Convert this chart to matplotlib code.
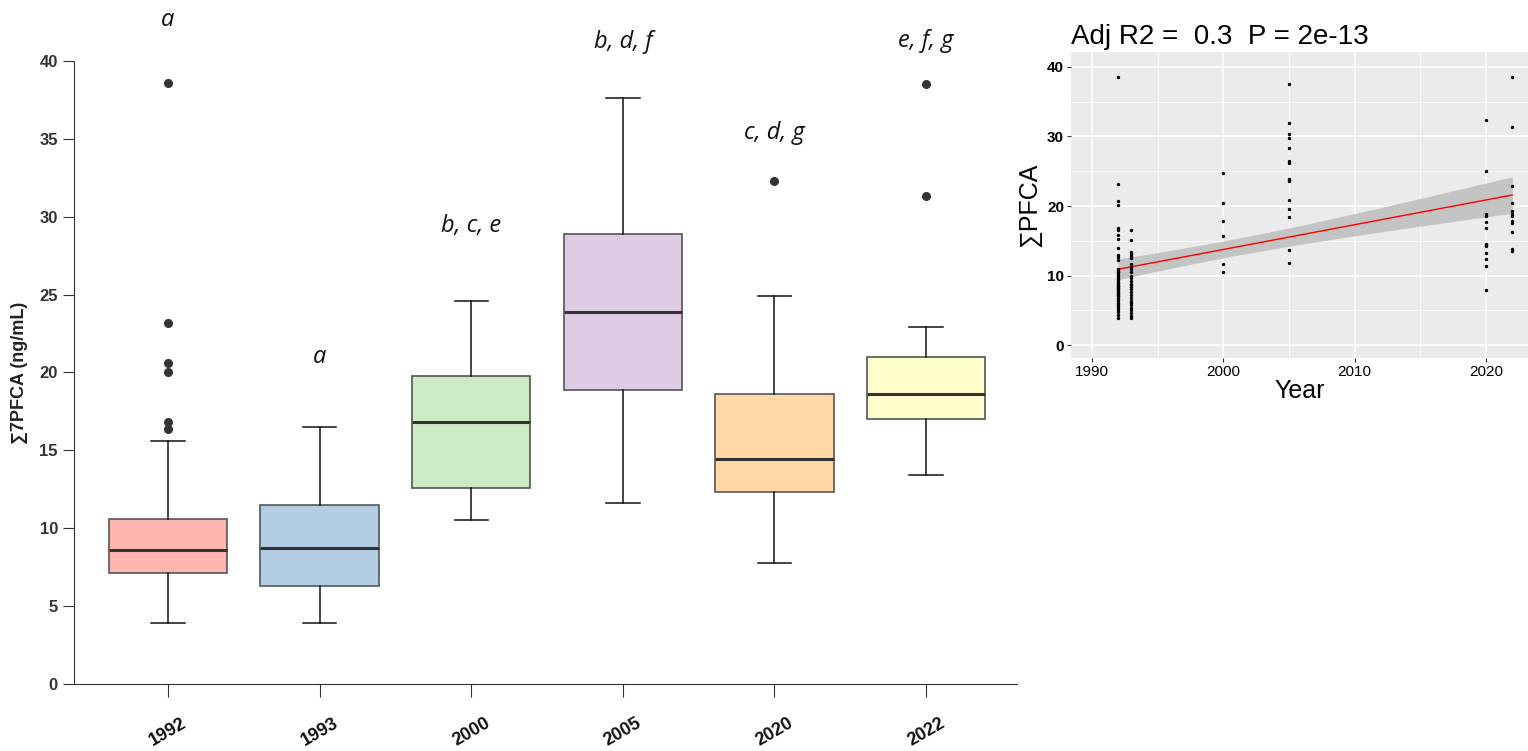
import numpy as np
import matplotlib
matplotlib.use('Agg')
import matplotlib.pyplot as plt

plt.rcParams['font.family'] = ['Liberation Sans', 'DejaVu Sans']

# resumen de cajas por año
anios = ['1992', '1993', '2000', '2005', '2020', '2022']
bigote_bajo = [3.9, 3.9, 10.5, 11.6, 7.8, 13.4]
q1 = [7.15, 6.3, 12.6, 18.9, 12.3, 17.0]
mediana = [8.6, 8.75, 16.8, 23.9, 14.45, 18.6]
q3 = [10.6, 11.5, 19.8, 28.9, 18.6, 21.0]
bigote_alto = [15.6, 16.5, 24.6, 37.6, 24.9, 22.9]
atipicos = [[38.6, 23.2, 20.6, 20.0, 16.8, 16.4], [], [], [], [32.3], [38.5, 31.3]]
letras = ['a', 'a', 'b, c, e', 'b, d, f', 'c, d, g', 'e, f, g']
altura_letras = [42.6, 21.0, 29.4, 41.2, 35.4, 41.3]
colores = ['#FBB4AE', '#B3CDE3', '#CCEBC5', '#DECBE4', '#FED9A6', '#FFFFCC']

# puntos del panel de regresion (estimados del grafico)
pfca_1992 = [3.9, 4.3, 4.7, 5.0, 5.3, 5.6, 5.9, 6.1, 6.3, 6.6, 6.8, 7.0,
             7.1, 7.2, 7.4, 7.5, 7.7, 7.8, 8.0, 8.1, 8.2, 8.4, 8.5, 8.6,
             8.7, 8.9, 9.1, 9.3, 9.5, 9.7, 9.9, 10.1, 10.3, 10.5, 10.7, 10.9,
             12.2, 12.6, 12.9, 13.9, 15.3, 15.8, 16.5, 16.9, 20.2, 20.7, 23.1, 38.6]
pfca_1993 = [3.9, 4.2, 4.6, 5.0, 5.4, 5.8, 6.1, 6.4, 6.8, 7.2, 7.6, 8.0, 8.3, 8.7,
             8.8, 9.2, 9.6, 10.0, 10.5, 10.9, 11.2, 11.6, 12.5, 12.8, 13.1, 13.4, 15.1, 16.5]
pfca_2000 = [10.5, 11.7, 15.7, 17.9, 20.5, 24.7]
pfca_2005 = [11.8, 13.7, 18.4, 19.6, 20.8, 23.6, 23.8, 23.9, 26.2, 26.5, 28.3,
             29.8, 30.4, 31.9, 37.6]
pfca_2020 = [7.9, 11.4, 12.4, 13.3, 14.3, 14.4, 14.5, 16.8, 17.7, 18.6, 18.8, 25.0, 32.3]
pfca_2022 = [13.5, 13.8, 16.2, 17.5, 17.8, 18.5, 18.9, 19.3, 20.4, 22.9, 31.4, 38.6]

fig = plt.figure(figsize=(15.28, 7.51), dpi=100)

# ---------- panel izquierdo: cajas ----------
ax = fig.add_axes([0.0484, 0.0892, 0.6172, 0.8296])
estadisticas = []
for i in range(len(anios)):
    estadisticas.append({'whislo': bigote_bajo[i], 'q1': q1[i], 'med': mediana[i],
                         'q3': q3[i], 'whishi': bigote_alto[i], 'fliers': atipicos[i],
                         'label': anios[i]})
cajas = ax.bxp(estadisticas, positions=range(len(anios)), widths=0.78, patch_artist=True,
               capwidths=0.22,
               boxprops=dict(edgecolor='#555555', linewidth=1.2),
               medianprops=dict(color='#333333', linewidth=2.2),
               whiskerprops=dict(color='#111111', linewidth=1.1),
               capprops=dict(color='#111111', linewidth=1.1),
               flierprops=dict(marker='o', markerfacecolor='#333333', markeredgecolor='#333333',
                               markersize=5.5))
for caja, c in zip(cajas['boxes'], colores):
    caja.set_facecolor(c)

for i in range(len(anios)):
    ax.text(i, altura_letras[i], letras[i], ha='center', va='center', fontsize=17,
            style='italic', family='Open Sans', color='#111111', clip_on=False)

ax.set_ylim(0, 40)
ax.set_xlim(-0.62, 5.6)
ax.set_yticks([0, 5, 10, 15, 20, 25, 30, 35, 40])
ax.spines['top'].set_visible(False)
ax.spines['right'].set_visible(False)
ax.spines['left'].set_color('#333333')
ax.spines['bottom'].set_color('#333333')
ax.tick_params(axis='y', length=8, color='#333333', labelsize=12, labelcolor='#333333')
ax.tick_params(axis='x', length=9, color='#333333', labelsize=13, pad=13, labelcolor='#111111')
for t in ax.get_yticklabels():
    t.set_fontweight('bold')
for t in ax.get_xticklabels():
    t.set_fontweight('bold')
    t.set_rotation(30)
ax.set_ylabel('∑7PFCA (ng/mL)', fontsize=13, fontweight='bold', color='#222222', labelpad=8)

# ---------- panel derecho: regresion ----------
ax2 = fig.add_axes([0.7009, 0.5233, 0.2991, 0.4075])
ax2.set_facecolor('#EBEBEB')
grupos = [(1992, pfca_1992), (1993, pfca_1993), (2000, pfca_2000),
          (2005, pfca_2005), (2020, pfca_2020), (2022, pfca_2022)]
x = np.concatenate([np.full(len(v), a) for a, v in grupos]).astype(float)
y = np.concatenate([np.array(v) for a, v in grupos])

pend, inter = np.polyfit(x, y, 1)
xs = np.linspace(x.min(), x.max(), 100)
ys = inter + pend * xs
n = len(x)
res = y - (inter + pend * x)
s = np.sqrt(np.sum(res ** 2) / (n - 2))
se = s * np.sqrt(1 / n + (xs - x.mean()) ** 2 / np.sum((x - x.mean()) ** 2))
ax2.fill_between(xs, ys - 1.98 * se, ys + 1.98 * se, color='#C4C4C4', lw=0, zorder=2)
ax2.plot(xs, ys, color='red', lw=1, zorder=3)
ax2.scatter(x, y, s=6, color='black', zorder=4, lw=0)

ax2.set_xlim(1988.4, 2023.2)
ax2.set_ylim(-1.85, 42.15)
ax2.set_xticks([1990, 2000, 2010, 2020])
ax2.set_yticks([0, 10, 20, 30, 40])
ax2.set_xticks([1995, 2005, 2015], minor=True)
ax2.set_yticks([5, 15, 25, 35], minor=True)
ax2.grid(which='major', color='white', lw=1.1)
ax2.grid(which='minor', color='white', lw=0.5)
ax2.set_axisbelow(True)
for sp in ax2.spines.values():
    sp.set_visible(False)
ax2.tick_params(which='major', length=3, color='#333333', labelsize=11, labelcolor='black', pad=2)
ax2.tick_params(which='minor', length=0)
for t in ax2.get_yticklabels():
    t.set_fontweight('bold')
ax2.set_xlabel('Year', fontsize=18, labelpad=0)
ax2.set_ylabel('∑PFCA', fontsize=18, labelpad=4)
ax2.set_title('Adj R2 =  0.3  P = 2e-13', fontsize=20, loc='left', pad=6)

fig.savefig('out.png', dpi=100)
